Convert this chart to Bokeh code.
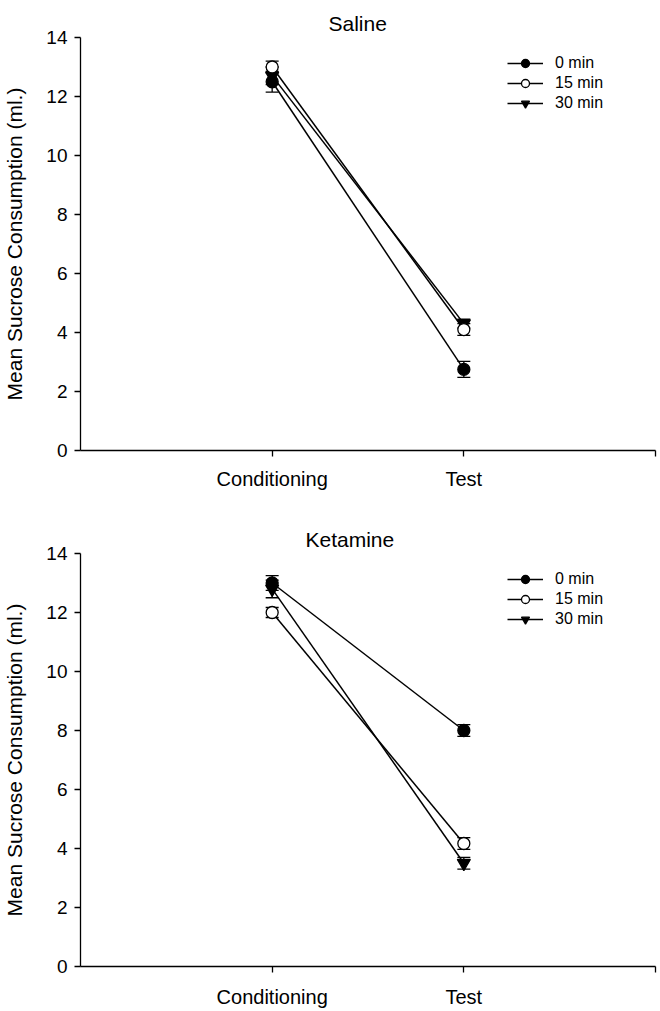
from bokeh.plotting import figure
from bokeh.models import (Whisker, TeeHead, FixedTicker, Legend, LegendItem,
                          ColumnDataSource, Range1d)
from bokeh.layouts import column
from bokeh.embed import file_html
from bokeh.resources import INLINE

# ---------------- data ----------------
categories = ["Conditioning", "Test"]
groups = ["0 min", "15 min", "30 min"]

saline_0 = [12.5, 2.75]
saline_0_err = [0.35, 0.27]
saline_15 = [13.0, 4.1]
saline_15_err = [0.2, 0.2]
saline_30 = [12.7, 4.3]
saline_30_err = [0.3, 0.15]

ketamine_0 = [13.0, 8.0]
ketamine_0_err = [0.25, 0.2]
ketamine_15 = [12.0, 4.17]
ketamine_15_err = [0.17, 0.2]
ketamine_30 = [12.8, 3.5]
ketamine_30_err = [0.3, 0.2]

y_ticks = [0, 2, 4, 6, 8, 10, 12, 14]

FONT = "Liberation Sans"
styles = {
    "0 min": dict(marker="circle", fill="black", size=12),
    "15 min": dict(marker="circle", fill="white", size=12),
    "30 min": dict(marker="inverted_triangle", fill="black", size=13),
}


def make_panel(title, series, height, b_top, b_bottom, label_standoff, title_offset):
    p = figure(width=657, height=height, output_backend="svg", toolbar_location=None,
               x_range=Range1d(0, len(categories) + 1), y_range=Range1d(0, 14),
               min_border_left=80, min_border_right=2,
               min_border_top=b_top, min_border_bottom=b_bottom)
    p.outline_line_color = None
    p.xgrid.visible = False
    p.ygrid.visible = False
    p.background_fill_color = "white"
    p.border_fill_color = "white"

    p.title.text = title
    p.title.align = "left"
    p.title.offset = title_offset
    p.title.text_font = FONT
    p.title.text_font_size = "21px"
    p.title.text_font_style = "normal"
    p.title.text_color = "black"
    p.title.standoff = 5

    xt = [i + 1 for i in range(len(categories) + 1)]
    p.xaxis.ticker = FixedTicker(ticks=xt)
    overrides = {i + 1: c for i, c in enumerate(categories)}
    overrides[len(categories) + 1] = ""
    p.xaxis.major_label_overrides = overrides
    p.yaxis.ticker = FixedTicker(ticks=y_ticks)
    p.yaxis.axis_label = "Mean Sucrose Consumption (ml.)"

    for ax in (p.xaxis[0], p.yaxis[0]):
        ax.axis_line_color = "black"
        ax.axis_line_width = 1.3
        ax.major_tick_line_color = "black"
        ax.major_tick_line_width = 1.3
        ax.major_tick_in = 0
        ax.major_tick_out = 6
        ax.minor_tick_line_color = None
        ax.major_label_text_font = FONT
        ax.major_label_text_color = "black"
        ax.axis_label_text_font = FONT
        ax.axis_label_text_font_style = "normal"
        ax.axis_label_text_color = "black"
    p.xaxis.major_label_text_font_size = "20px"
    p.xaxis.major_label_standoff = label_standoff
    p.yaxis.major_label_text_font_size = "19px"
    p.yaxis.major_label_standoff = 7
    p.yaxis.axis_label_text_font_size = "21px"
    p.yaxis.axis_label_standoff = 17

    xs = [i + 1 for i in range(len(categories))]
    items = []
    for g in reversed(groups):
        vals, errs = series[g]
        st = styles[g]
        src = ColumnDataSource(dict(x=xs, y=vals,
                                    upper=[v + e for v, e in zip(vals, errs)],
                                    lower=[v - e for v, e in zip(vals, errs)]))
        w = Whisker(base="x", upper="upper", lower="lower", source=src,
                    dimension="height", line_color="black", line_width=1.3,
                    level="underlay",
                    upper_head=TeeHead(size=13, line_color="black", line_width=1.3),
                    lower_head=TeeHead(size=13, line_color="black", line_width=1.3))
        p.add_layout(w)
        lr = p.line("x", "y", source=src, line_color="black", line_width=1.5)
        sr = p.scatter("x", "y", source=src, marker=st["marker"], size=st["size"],
                       fill_color=st["fill"], line_color="black", line_width=1.3)
        items.append((g, lr, sr))

    legend_items = [LegendItem(label=g, renderers=[lr, sr])
                    for g, lr, sr in sorted(items, key=lambda t: groups.index(t[0]))]
    leg = Legend(items=legend_items, location=(427, 337), orientation="vertical",
                 glyph_width=36, glyph_height=20, label_height=20, spacing=0,
                 padding=0, margin=0, label_standoff=12,
                 border_line_color=None, background_fill_alpha=0,
                 label_text_font=FONT, label_text_font_size="16px",
                 label_text_color="black")
    p.add_layout(leg, "center")
    return p


saline = make_panel("Saline", {
    "0 min": (saline_0, saline_0_err),
    "15 min": (saline_15, saline_15_err),
    "30 min": (saline_30, saline_30_err),
}, height=520, b_top=37, b_bottom=70, label_standoff=11, title_offset=248)

ketamine = make_panel("Ketamine", {
    "0 min": (ketamine_0, ketamine_0_err),
    "15 min": (ketamine_15, ketamine_15_err),
    "30 min": (ketamine_30, ketamine_30_err),
}, height=490, b_top=33, b_bottom=43, label_standoff=13, title_offset=225)

layout = column(saline, ketamine, spacing=0)
open("out.html", "w").write(file_html(layout, INLINE))
